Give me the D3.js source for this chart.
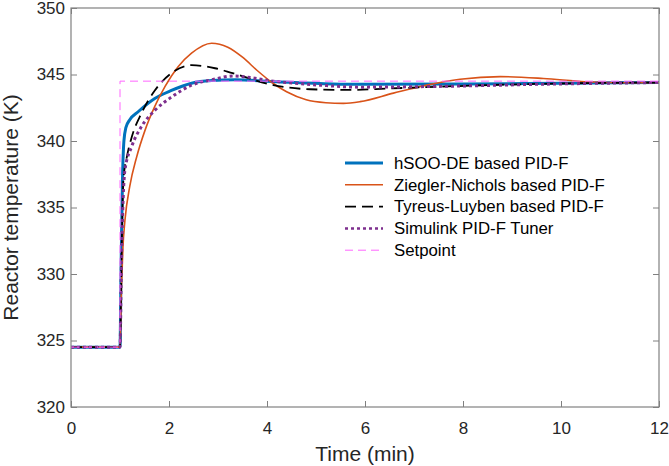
<!DOCTYPE html>
<html>
<head>
<meta charset="utf-8">
<script src="https://cdn.jsdelivr.net/npm/d3@7"></script>
<style>
  body { margin: 0; background: #fff; }
  svg { font-family: "Liberation Sans", Arial, sans-serif; }
</style>
</head>
<body>
<svg width="669" height="466"></svg>
<script>
// series (time in min, temperature in K)
var hsooT = [0, 1, 1.02, 1.05, 1.08, 1.12, 1.2, 1.37, 1.71, 2.05, 2.46, 2.87, 3.35, 4.2, 5.9, 8, 10, 12];
var hsooY = [324.5, 324.5, 330, 337, 340, 341, 341.6, 342.2, 343.2, 343.8, 344.34, 344.54, 344.6, 344.46, 344.26, 344.28, 344.35, 344.4];

var znT = [0, 1, 1.03, 1.06, 1.1, 1.2, 1.34, 1.51, 1.71, 1.92, 2.19, 2.46, 2.87, 3.2, 3.5, 3.8, 4.1, 4.4, 4.8, 5.2, 5.56, 5.9, 6.58, 7.26, 7.94, 8.76, 9.64, 10.5, 11.3, 12];
var znY = [324.5, 324.5, 329, 332, 334, 336.6, 338.8, 340.8, 342.6, 344.1, 345.6, 346.6, 347.35, 347.05, 346.3, 345.3, 344.4, 343.7, 343.1, 342.88, 342.83, 342.96, 343.6, 344.2, 344.64, 344.84, 344.7, 344.46, 344.38, 344.4];

var tlT = [0, 1, 1.03, 1.07, 1.14, 1.24, 1.44, 1.71, 2.05, 2.46, 2.94, 3.3, 4.13, 4.88, 5.69, 6.5, 7.9, 9.5, 12];
var tlY = [324.5, 324.5, 331, 337.1, 338.8, 340.3, 342.1, 343.8, 345.1, 345.7, 345.47, 345.1, 344.2, 343.89, 343.84, 343.95, 344.13, 344.29, 344.4];

var simT = [0, 1, 1.03, 1.1, 1.24, 1.44, 1.71, 2.05, 2.46, 2.87, 3.31, 4.13, 5.08, 5.9, 7.9, 9.5, 12];
var simY = [324.5, 324.5, 331, 337.8, 339.6, 341.1, 342.3, 343.3, 344.2, 344.6, 344.89, 344.5, 344.2, 344.05, 344.13, 344.26, 344.4];

var spT = [0, 1, 1, 12];
var spY = [324.5, 324.5, 344.5, 344.5];

var xTicks = [0, 2, 4, 6, 8, 10, 12];
var yTicks = [320, 325, 330, 335, 340, 345, 350];

var legendNames = ["hSOO-DE based PID-F", "Ziegler-Nichols based PID-F", "Tyreus-Luyben based PID-F", "Simulink PID-F Tuner", "Setpoint"];

var plotLeft = 71, plotRight = 659, plotTop = 8, plotBottom = 407;

var svg = d3.select("svg");

var x = d3.scaleLinear().domain([0, 12]).range([plotLeft, plotRight]);
var y = d3.scaleLinear().domain([320, 350]).range([plotBottom, plotTop]);

var axisColor = "#808080", textColor = "#262626";

// series styles
var series = [
  {t: hsooT, v: hsooY, color: "#0072BD", width: 3, dash: null, curve: d3.curveMonotoneX},
  {t: znT, v: znY, color: "#D95319", width: 1.6, dash: null, curve: d3.curveMonotoneX},
  {t: tlT, v: tlY, color: "#000000", width: 1.8, dash: "11,6", curve: d3.curveMonotoneX},
  {t: simT, v: simY, color: "#7E2F8E", width: 3, dash: "3,3", curve: d3.curveMonotoneX},
  {t: spT, v: spY, color: "#FF66FF", width: 1, dash: "8,5", curve: d3.curveLinear}
];

svg.append("defs").append("clipPath").attr("id", "plot")
  .append("rect").attr("x", plotLeft).attr("y", plotTop)
  .attr("width", plotRight - plotLeft).attr("height", plotBottom - plotTop);

var lines = svg.append("g").attr("clip-path", "url(#plot)");
series.forEach(function(s) {
  var pts = s.t.map(function(t, i) { return [t, s.v[i]]; });
  lines.append("path")
    .datum(pts)
    .attr("fill", "none")
    .attr("stroke", s.color)
    .attr("stroke-width", s.width)
    .attr("stroke-dasharray", s.dash)
    .attr("d", d3.line().x(function(d) { return x(d[0]); }).y(function(d) { return y(d[1]); }).curve(s.curve));
});

// axes, MATLAB style box with inner ticks
function styleAxis(g) {
  g.select(".domain").remove();
  g.selectAll(".tick line").attr("stroke", axisColor);
  g.selectAll(".tick text").attr("fill", textColor).style("font-size", "17px");
}

svg.append("g").attr("transform", "translate(0," + plotBottom + ")")
  .call(d3.axisBottom(x).tickValues(xTicks).tickSize(-6).tickPadding(15)).call(styleAxis);
svg.append("g").attr("transform", "translate(0," + plotTop + ")")
  .call(d3.axisTop(x).tickValues(xTicks).tickSize(-6).tickFormat("")).call(styleAxis);
svg.append("g").attr("transform", "translate(" + plotLeft + ",0)")
  .call(d3.axisLeft(y).tickValues(yTicks).tickSize(-6).tickPadding(6)).call(styleAxis);
svg.append("g").attr("transform", "translate(" + plotRight + ",0)")
  .call(d3.axisRight(y).tickValues(yTicks).tickSize(-6).tickFormat("")).call(styleAxis);

svg.append("rect")
  .attr("x", plotLeft).attr("y", plotTop)
  .attr("width", plotRight - plotLeft).attr("height", plotBottom - plotTop)
  .attr("fill", "none").attr("stroke", axisColor).attr("stroke-width", 1.2);

svg.append("text")
  .attr("x", (plotLeft + plotRight) / 2).attr("y", 461)
  .attr("text-anchor", "middle").attr("fill", textColor)
  .style("font-size", "21px").text("Time (min)");

svg.append("text")
  .attr("transform", "translate(18," + (plotTop + plotBottom) / 2 + ") rotate(-90)")
  .attr("text-anchor", "middle").attr("fill", textColor)
  .style("font-size", "21px").text("Reactor temperature (K)");

// legend
var legend = svg.append("g").attr("transform", "translate(345,163)");
series.forEach(function(s, i) {
  var row = legend.append("g").attr("transform", "translate(0," + i * 21.8 + ")");
  row.append("line").attr("x1", 0).attr("x2", 38)
    .attr("stroke", s.color)
    .attr("stroke-width", i === 0 ? 3 : (i === 3 ? 2.5 : s.width))
    .attr("stroke-dasharray", s.dash);
  row.append("text").attr("x", 49).attr("dy", "0.35em")
    .attr("fill", "#000").style("font-size", "16.8px").text(legendNames[i]);
});
</script>
</body>
</html>
